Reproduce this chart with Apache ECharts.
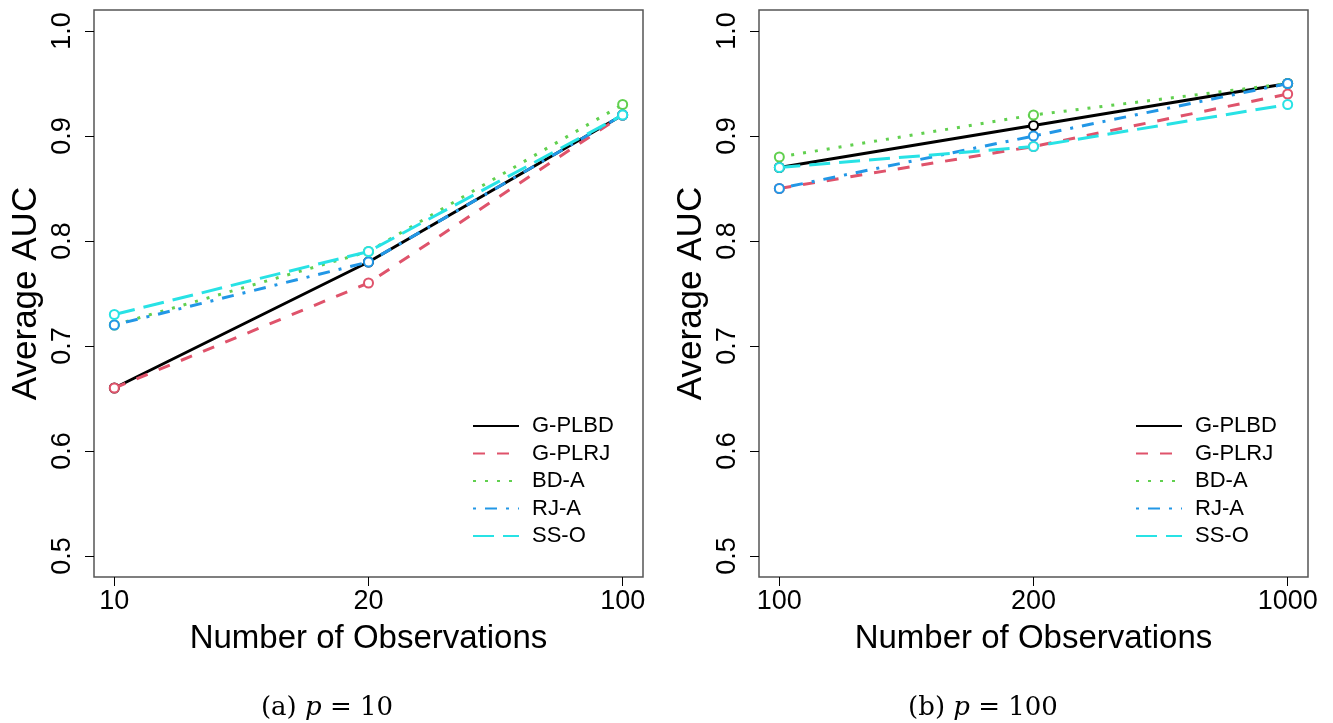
<!DOCTYPE html>
<html>
<head>
<meta charset="utf-8">
<script src="https://cdn.jsdelivr.net/npm/echarts@6/dist/echarts.min.js"></script>
<style>
  html, body { margin: 0; padding: 0; background: #fff; }
  #chart { width: 1333px; height: 723px; }
</style>
</head>
<body>
<div id="chart"></div>
<script>
// data
const methods = ["G-PLBD", "G-PLRJ", "BD-A", "RJ-A", "SS-O"];
const obsA = ["10", "20", "100"];      // p = 10
const obsB = ["100", "200", "1000"];   // p = 100
const yTicks = [0.5, 0.6, 0.7, 0.8, 0.9, 1.0];

const aucA = {
  "G-PLBD": [0.66, 0.78, 0.92],
  "G-PLRJ": [0.66, 0.76, 0.92],
  "BD-A":   [0.72, 0.79, 0.93],
  "RJ-A":   [0.72, 0.78, 0.92],
  "SS-O":   [0.73, 0.79, 0.92]
};
const aucB = {
  "G-PLBD": [0.87, 0.91, 0.95],
  "G-PLRJ": [0.85, 0.89, 0.94],
  "BD-A":   [0.88, 0.92, 0.95],
  "RJ-A":   [0.85, 0.90, 0.95],
  "SS-O":   [0.87, 0.89, 0.93]
};

// R default palette + lty 1..5 at lwd ~3
const colors = ["#000000", "#DF536B", "#61D04F", "#2297E6", "#28E2E5"];
const dashes = ["solid", [12, 12], [3, 9], [3, 9, 12, 9], [21, 9]];

const font = "'Liberation Sans', Arial, sans-serif";
const serif = "'DejaVu Serif', 'Liberation Serif', serif";
const chart = echarts.init(document.getElementById("chart"));

function xAxisFor(idx, labels) {
  return {
    type: "value",
    gridIndex: idx,
    min: 0.92,
    max: 3.08,
    name: "Number of Observations",
    nameLocation: "middle",
    nameGap: 45,
    nameTextStyle: { fontFamily: font, fontSize: 33, color: "#000" },
    axisLine: { show: false },
    splitLine: { show: false },
    axisTick: {
      show: true, inside: false, length: 9,
      customValues: [1, 2, 3],
      lineStyle: { color: "#000", width: 1 }
    },
    axisLabel: {
      customValues: [1, 2, 3],
      margin: 11,
      fontFamily: font, fontSize: 27, color: "#000",
      formatter: v => labels[Math.round(v) - 1]
    }
  };
}

function yAxisFor(idx) {
  return {
    type: "value",
    gridIndex: idx,
    min: 0.48,
    max: 1.02,
    name: "Average AUC",
    nameLocation: "middle",
    nameGap: 50,
    nameTextStyle: { fontFamily: font, fontSize: 35, color: "#000" },
    axisLine: { show: false },
    splitLine: { show: false },
    axisTick: {
      show: true, inside: false, length: 9,
      customValues: yTicks,
      lineStyle: { color: "#000", width: 1 }
    },
    axisLabel: {
      customValues: yTicks,
      rotate: 90,
      margin: 18,
      fontFamily: font, fontSize: 27, color: "#000",
      formatter: v => v.toFixed(1)
    }
  };
}

function seriesFor(idx, data) {
  return methods.map((m, i) => ({
    name: m,
    type: "line",
    xAxisIndex: idx,
    yAxisIndex: idx,
    data: data[m].map((v, j) => [j + 1, v]),
    symbol: "emptyCircle",
    symbolSize: 9,
    itemStyle: { color: colors[i], borderWidth: 2.5 },
    lineStyle: { color: colors[i], width: 3, type: dashes[i] },
    z: 2 + i,
    animation: false
  }));
}

function legendFor(left) {
  return {
    data: methods,
    orient: "vertical",
    left: left,
    top: 410,
    itemWidth: 46,
    itemHeight: 14,
    itemGap: 5.5,
    itemStyle: { opacity: 0 },
    selectedMode: false,
    textStyle: { fontFamily: font, fontSize: 22, lineHeight: 22, color: "#000", padding: [0, 0, 0, 8] }
  };
}

function caption(x, letter, p) {
  return {
    type: "text", x: x, y: 708,
    style: {
      text: "(" + letter + ") {i|p} = " + p,
      x: 0, y: 0,
      align: "center", verticalAlign: "middle",
      fontFamily: serif, fontSize: 26, fill: "#000",
      rich: { i: { fontStyle: "italic", fontFamily: serif, fontSize: 26 } }
    }
  };
}

chart.setOption({
  backgroundColor: "#fff",
  grid: [
    { left: 94, top: 10, width: 549, height: 567, show: true, borderColor: "#555", borderWidth: 1.5, backgroundColor: "transparent" },
    { left: 759, top: 10, width: 549, height: 567, show: true, borderColor: "#555", borderWidth: 1.5, backgroundColor: "transparent" }
  ],
  xAxis: [xAxisFor(0, obsA), xAxisFor(1, obsB)],
  yAxis: [yAxisFor(0), yAxisFor(1)],
  legend: [legendFor(467), legendFor(1130)],
  series: seriesFor(0, aucA).concat(seriesFor(1, aucB)),
  graphic: [caption(327, "a", 10), caption(983, "b", 100)]
});
</script>
</body>
</html>
